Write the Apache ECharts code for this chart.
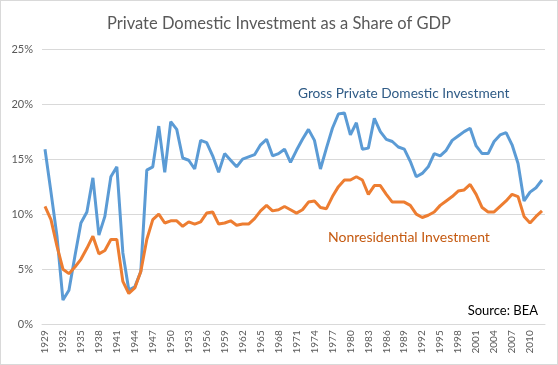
<!DOCTYPE html>
<html>
<head>
<meta charset="utf-8">
<script src="https://cdn.jsdelivr.net/npm/echarts@6/dist/echarts.min.js"></script>
<style>
html,body{margin:0;padding:0;background:#fff;}
#c{width:556px;height:363px;border:1px solid #d9d9d9;}
</style>
</head>
<body>
<div id="c"></div>
<script>
const years = [];
for (let y = 1929; y <= 2012; y++) years.push(String(y));

const grossInvestment = [
  15.9, 12.0, 8.0, 2.2, 3.1, 6.2, 9.2, 10.2, 13.3, 8.1,
  9.8, 13.4, 14.3, 6.5, 3.1, 3.4, 4.8, 14.0, 14.3, 18.0,
  13.8, 18.4, 17.7, 15.1, 14.9, 14.1, 16.7, 16.5, 15.3, 13.8,
  15.5, 14.9, 14.3, 15.0, 15.2, 15.4, 16.3, 16.8, 15.3, 15.5,
  15.9, 14.7, 15.8, 16.8, 17.7, 16.7, 14.1, 16.0, 17.8, 19.1,
  19.2, 17.2, 18.3, 15.9, 16.0, 18.7, 17.5, 16.8, 16.6, 16.1,
  15.9, 14.8, 13.4, 13.7, 14.3, 15.5, 15.3, 15.8, 16.7, 17.1,
  17.5, 17.8, 16.2, 15.5, 15.5, 16.6, 17.2, 17.4, 16.3, 14.6,
  11.2, 12.0, 12.4, 13.1
];

const nonresidential = [
  10.7, 9.5, 7.1, 5.0, 4.6, 5.2, 5.9, 6.9, 8.0, 6.4,
  6.7, 7.7, 7.7, 3.9, 2.8, 3.3, 4.8, 7.7, 9.5, 10.0,
  9.2, 9.4, 9.4, 8.9, 9.3, 9.1, 9.3, 10.1, 10.2, 9.1,
  9.2, 9.4, 9.0, 9.1, 9.1, 9.6, 10.3, 10.8, 10.3, 10.4,
  10.7, 10.4, 10.1, 10.4, 11.1, 11.2, 10.6, 10.5, 11.6, 12.5,
  13.1, 13.1, 13.4, 13.1, 11.8, 12.6, 12.6, 11.8, 11.1, 11.1,
  11.1, 10.8, 10.0, 9.7, 9.9, 10.2, 10.8, 11.2, 11.6, 12.1,
  12.2, 12.7, 11.8, 10.6, 10.2, 10.2, 10.7, 11.2, 11.8, 11.6,
  9.8, 9.2, 9.8, 10.3
];

const yTicks = [0, 5, 10, 15, 20, 25];

const FONT = 'Lato, "Open Sans", sans-serif';
const chart = echarts.init(document.getElementById('c'));
chart.setOption({
  animation: false,
  grid: { left: 41, right: 12, top: 48, bottom: 39.7, containLabel: false },
  title: {
    text: 'Private Domestic Investment as a Share of GDP',
    left: 'center', top: 9,
    textStyle: { fontFamily: FONT, fontSize: 16.5, fontWeight: 'normal', color: '#595959' }
  },
  xAxis: {
    type: 'category',
    data: years,
    boundaryGap: true,
    axisLine: { lineStyle: { color: '#d9d9d9' } },
    axisTick: { show: false },
    axisLabel: { interval: 2, rotate: 90, fontFamily: FONT, fontSize: 10, color: '#595959', margin: 6 }
  },
  yAxis: {
    type: 'value',
    min: yTicks[0], max: yTicks[yTicks.length - 1], interval: 5,
    axisLine: { show: false },
    axisTick: { show: false },
    splitLine: { lineStyle: { color: '#d9d9d9' } },
    axisLabel: { formatter: '{value}%', fontFamily: FONT, fontSize: 11, color: '#595959', margin: 9 }
  },
  series: [
    { name: 'Gross Private Domestic Investment', type: 'line', data: grossInvestment, symbol: 'none',
      lineStyle: { color: '#5b9bd5', width: 3 }, itemStyle: { color: '#5b9bd5' } },
    { name: 'Nonresidential Investment', type: 'line', data: nonresidential, symbol: 'none',
      lineStyle: { color: '#ed7d31', width: 3 }, itemStyle: { color: '#ed7d31' } }
  ],
  graphic: [
    { type: 'text', left: 297, top: 86, style: { text: 'Gross Private Domestic Investment', font: '13.7px ' + FONT, fill: '#2f5b86' } },
    { type: 'text', left: 327, top: 229, style: { text: 'Nonresidential Investment', font: '14px ' + FONT, fill: '#c55a11' } },
    { type: 'text', right: 19, top: 303, style: { text: 'Source: BEA', font: '13px ' + FONT, fill: '#000000' } }
  ]
});
</script>
</body>
</html>
